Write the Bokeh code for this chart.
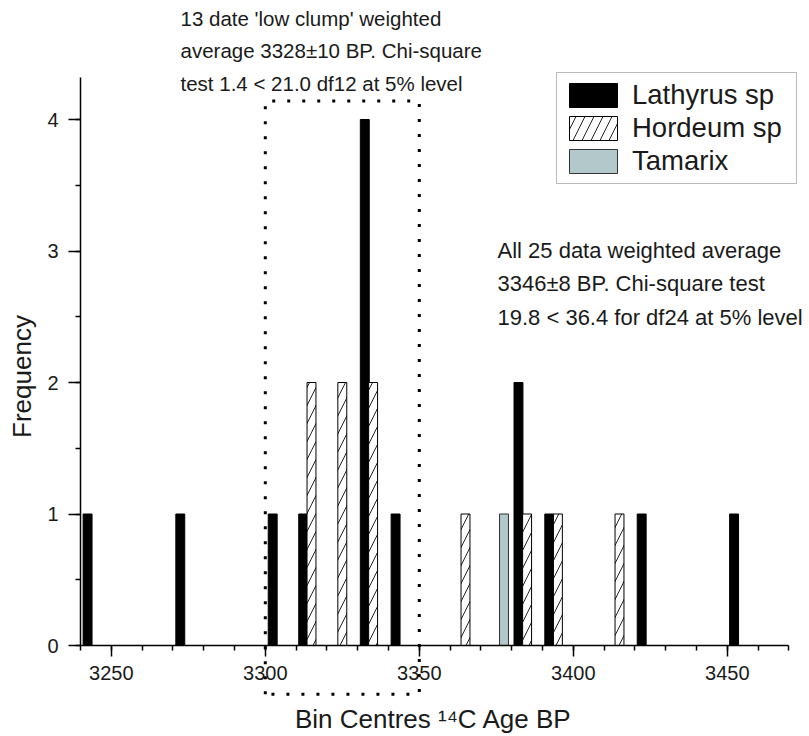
import math
from bokeh.plotting import figure
from bokeh.models import Range1d, SingleIntervalTicker, Label, Legend, LegendItem
from bokeh.embed import file_html
from bokeh.resources import INLINE

# ---- data (bin centres, 14C age BP) ----
lathyrus_bins = [3242.3, 3272.4, 3302.4, 3312.3, 3332.3, 3342.3, 3382.2, 3392.2, 3422.2, 3452.2]
lathyrus_freq = [1, 1, 1, 1, 4, 1, 2, 1, 1, 1]
hordeum_bins = [3315, 3325, 3335, 3365, 3385, 3395, 3415]
hordeum_freq = [2, 2, 2, 1, 1, 1, 1]
tamarix_bins = [3377.5]
tamarix_freq = [1]
series_names = ["Lathyrus sp", "Hordeum sp", "Tamarix"]

clump_x = [3300, 3350]          # 'low clump' window
clump_y = [-0.37, 4.14]

x_title = "Bin Centres \u00b9\u2074C Age BP"
y_title = "Frequency"
top_note = ["13 date 'low clump' weighted",
            "average 3328\u00b110 BP. Chi-square",
            "test 1.4 < 21.0 df12 at 5% level"]
right_note = ["All 25 data weighted average",
              "3346\u00b18 BP. Chi-square test",
              "19.8 < 36.4 for df24 at 5% level"]

FONT = "Liberation Sans"
TXT = "#1a1a1a"
W, H = 809, 736
AX_X = 80        # pixel column of the y axis
PXU = 3.08
YPX = 131.5
Y0 = 645         # pixel row of the x axis

p = figure(width=W, height=H, output_backend="svg", toolbar_location=None,
           x_range=Range1d(3240 - AX_X / PXU, 3240 + (W - AX_X) / PXU),
           y_range=Range1d(-(H - Y0) / YPX, Y0 / YPX),
           min_border_left=0, min_border_right=0, min_border_top=0, min_border_bottom=0)
p.outline_line_color = None
p.grid.visible = False
p.background_fill_color = "white"

p.xaxis.fixed_location = 0
p.yaxis.fixed_location = 3240
p.xaxis.bounds = (3240, 3470)
p.yaxis.bounds = (0, 4.32)
p.xaxis.ticker = SingleIntervalTicker(interval=50, num_minor_ticks=5)
p.yaxis.ticker = SingleIntervalTicker(interval=1, num_minor_ticks=2)

for ax in p.axis:
    ax.axis_line_width = 1.5
    ax.axis_line_color = "black"
    ax.major_tick_line_width = 1.5
    ax.minor_tick_line_width = 1.5
    ax.major_tick_out = 11
    ax.major_tick_in = 0
    ax.minor_tick_out = 5
    ax.minor_tick_in = 0
    ax.major_label_text_font = FONT
    ax.major_label_text_font_size = "20px"
    ax.major_label_text_color = TXT
p.xaxis.major_label_standoff = 9
p.yaxis.major_tick_out = 12
p.yaxis.major_label_standoff = 10

# dotted clump box
p.line(x=[clump_x[0], clump_x[0], clump_x[1], clump_x[1], clump_x[0]],
       y=[clump_y[0], clump_y[1], clump_y[1], clump_y[0], clump_y[0]],
       line_color="black", line_width=3, line_dash="3 12")

BW = 2.9
r_lat = p.vbar(x=lathyrus_bins, top=lathyrus_freq, width=BW, bottom=0,
               fill_color="black", line_color="black", line_width=1)
r_tam = p.vbar(x=tamarix_bins, top=tamarix_freq, width=BW, bottom=0,
               fill_color="#b3c8ca", line_color="#333333", line_width=1)
r_hor = p.vbar(x=hordeum_bins, top=hordeum_freq, width=BW, bottom=0,
               fill_color="white", line_color="black", line_width=1,
               hatch_pattern="/", hatch_color="#222222", hatch_scale=18, hatch_weight=1)

legend = Legend(items=[LegendItem(label=series_names[0], renderers=[r_lat]),
                       LegendItem(label=series_names[1], renderers=[r_hor]),
                       LegendItem(label=series_names[2], renderers=[r_tam])],
                location=(556, 552))
legend.glyph_width = 60
legend.glyph_height = 30
legend.label_text_font = FONT
legend.label_text_font_size = "27.5px"
legend.label_text_color = TXT
legend.label_standoff = 9
legend.label_width = 158
legend.padding = 6
legend.spacing = 1
legend.border_line_color = "#777777"
legend.border_line_width = 1
legend.background_fill_color = "white"
legend.background_fill_alpha = 1
p.add_layout(legend)

def label(t, x, y, size, align="left", angle=0.0):
    p.add_layout(Label(x=x, y=H - y, x_units="screen", y_units="screen", text=t,
                       text_font=FONT, text_font_size=size, text_color=TXT,
                       text_baseline="middle", text_align=align, angle=angle))

for t, y in zip(top_note, [18, 50, 83]):
    label(t, 180, y, "20.5px")
for t, y in zip(right_note, [250, 283, 317]):
    label(t, 497, y, "22px")

label(x_title, 433, 718, "26px", align="center")
label(y_title, 21, 376, "26px", align="center", angle=math.pi / 2)

open("out.html", "w").write(file_html(p, INLINE))
